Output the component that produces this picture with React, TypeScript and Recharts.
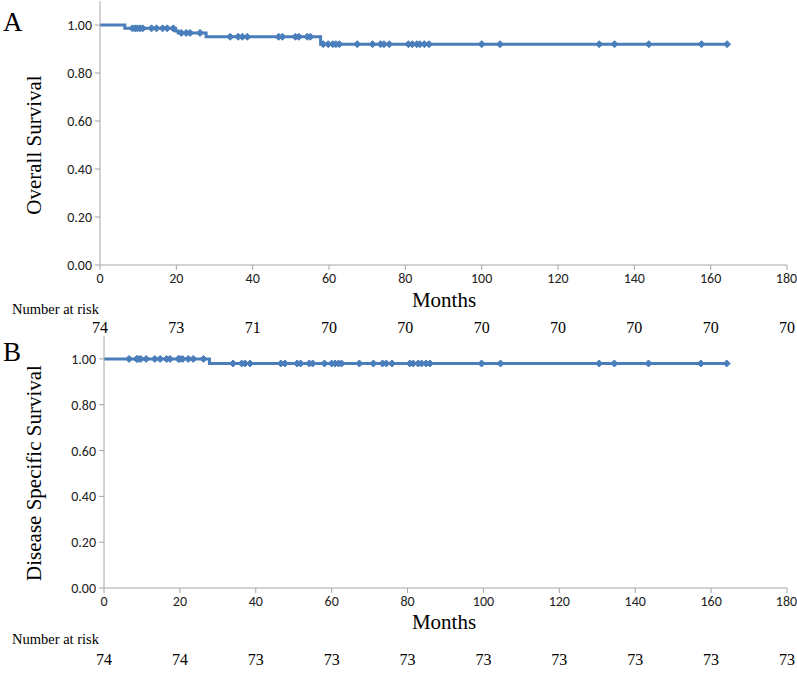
import React from 'react';
import { ComposedChart, Line, XAxis, YAxis } from 'recharts';

// ticks
const monthTicks = [0, 20, 40, 60, 80, 100, 120, 140, 160, 180];
const survivalTicks = [0, 0.2, 0.4, 0.6, 0.8, 1.0];

// A: overall survival
const osEventMonths = [6.5, 19.8, 20.5, 27.8, 57.8];
const osEventSurvival = [0.986, 0.975, 0.967, 0.951, 0.92];
const osCensorMonths = [
  8.5, 9.2, 9.8, 10.5, 11.2, 13.5, 14.8, 16.4, 17.6, 19.2, 21.3, 22.6, 23.6, 26.2,
  34.1, 36.2, 37.3, 38.6, 46.8, 47.8, 51.2, 52.1, 54.3, 55.1, 58.5, 59.8, 61.0, 61.8,
  62.7, 67.4, 71.4, 73.5, 74.4, 75.8, 80.8, 81.8, 83.0, 83.8, 85.0, 86.2, 100, 104.8,
  130.8, 134.8, 143.8, 157.6, 164.3,
];
const osAtRisk = [74, 73, 71, 70, 70, 70, 70, 70, 70, 70];

// B: disease specific survival
const dssEventMonths = [27.8];
const dssEventSurvival = [0.98];
const dssCensorMonths = [
  6.6, 8.6, 9.0, 9.7, 11.1, 13.4, 14.8, 16.5, 17.4, 19.6, 20.0, 20.7, 22.2, 23.5, 26.2,
  34.0, 36.3, 37.2, 38.5, 46.6, 47.7, 50.9, 51.8, 54.1, 55.0, 58.1, 60.0, 60.9, 61.8,
  62.6, 67.3, 71.0, 73.4, 74.4, 75.9, 80.6, 81.5, 82.8, 83.7, 84.9, 85.9, 99.5, 104.5,
  130.5, 134.5, 143.5, 157.3, 164.1,
];
const dssAtRisk = [74, 74, 73, 73, 73, 73, 73, 73, 73, 73];

const BLUE = '#4a7ebb';
const AXIS = '#a6a6a6';
const SERIF = '"Liberation Serif", "Times New Roman", serif';
const SANS = 'Carlito, "Liberation Sans Narrow", "Liberation Sans", sans-serif';

type Row = { t: number; s: number; c: boolean };

function buildRows(eventT: number[], eventS: number[], censorT: number[]): Row[] {
  const rows: Row[] = [{ t: 0, s: 1, c: false }];
  eventT.forEach((t, i) => rows.push({ t, s: eventS[i], c: false }));
  censorT.forEach((t) => {
    let s = 1;
    eventT.forEach((et, i) => {
      if (et <= t) s = eventS[i];
    });
    rows.push({ t, s, c: true });
  });
  return rows.sort((a, b) => a.t - b.t);
}

const Diamond = (props: any) => {
  const { cx, cy, payload, index } = props;
  if (!payload || !payload.c) return <g key={`n${index}`} />;
  const r = 3.5;
  return (
    <path
      key={`d${index}`}
      d={`M${cx},${cy - r}L${cx + r},${cy}L${cx},${cy + r}L${cx - r},${cy}Z`}
      fill={BLUE}
      stroke={BLUE}
      strokeWidth={1}
    />
  );
};

interface PanelProps {
  top: number;
  plotLeft: number;
  plotTop: number;
  plotBottom: number;
  rows: Row[];
  letter: string;
  letterY: number;
  yTitle: string;
  yTitleY: number;
  monthsY: number;
  riskLabelY: number;
  riskY: number;
  atRisk: number[];
}

function Panel(p: PanelProps) {
  const xAxisH = 28;
  const height = p.plotBottom - p.top + xAxisH;
  const plotRight = 787;
  const step = (plotRight - p.plotLeft) / (monthTicks.length - 1);
  return (
    <>
      <div style={{ position: 'absolute', left: 0, top: p.top }}>
        <ComposedChart
          width={797}
          height={height}
          data={p.rows}
          margin={{ top: p.plotTop - p.top, right: 797 - plotRight, left: p.plotLeft - 60, bottom: 0 }}
        >
          <XAxis
            dataKey="t"
            type="number"
            domain={[0, 180]}
            ticks={monthTicks}
            height={xAxisH}
            stroke={AXIS}
            tickSize={5}
            tickMargin={3}
            tick={{ fill: '#222', fontSize: 14, fontFamily: SANS }}
          />
          <YAxis
            type="number"
            domain={[0, 1.1]}
            ticks={survivalTicks}
            width={60}
            stroke={AXIS}
            tickSize={5}
            tickMargin={3}
            tickFormatter={(v: number) => v.toFixed(2)}
            tick={{ fill: '#222', fontSize: 14, fontFamily: SANS }}
          />
          <Line
            dataKey="s"
            type="stepAfter"
            stroke={BLUE}
            strokeWidth={3}
            dot={Diamond}
            activeDot={false}
            isAnimationActive={false}
          />
        </ComposedChart>
      </div>
      <div style={{ position: 'absolute', left: 3, top: p.letterY - 15, fontFamily: SERIF, fontSize: 27, lineHeight: '30px' }}>
        {p.letter}
      </div>
      <div
        style={{
          position: 'absolute',
          left: 34 - 150,
          top: p.yTitleY - 12,
          width: 300,
          textAlign: 'center',
          fontFamily: SERIF,
          fontSize: 21,
          lineHeight: '24px',
          transform: 'rotate(-90deg)',
          whiteSpace: 'nowrap',
        }}
      >
        {p.yTitle}
      </div>
      <div style={{ position: 'absolute', left: 444 - 60, top: p.monthsY - 12, width: 120, textAlign: 'center', fontFamily: SERIF, fontSize: 21, lineHeight: '24px' }}>
        Months
      </div>
      <div style={{ position: 'absolute', left: 12, top: p.riskLabelY - 10, fontFamily: SERIF, fontSize: 14.5, lineHeight: '20px', whiteSpace: 'nowrap' }}>
        Number at risk
      </div>
      {p.atRisk.map((n, i) => (
        <div
          key={i}
          style={{
            position: 'absolute',
            left: p.plotLeft + i * step - 20,
            top: p.riskY - 10,
            width: 40,
            textAlign: 'center',
            fontFamily: SERIF,
            fontSize: 16,
            lineHeight: '20px',
          }}
        >
          {n}
        </div>
      ))}
    </>
  );
}

export default function App() {
  const osRows = buildRows(osEventMonths, osEventSurvival, osCensorMonths);
  const dssRows = buildRows(dssEventMonths, dssEventSurvival, dssCensorMonths);
  return (
    <div style={{ position: 'relative', width: 797, height: 679, background: '#fff', overflow: 'hidden' }}>
      <style>{`body{margin:0}`}</style>
      <Panel
        top={0}
        plotLeft={100}
        plotTop={1}
        plotBottom={265}
        rows={osRows}
        letter="A"
        letterY={22}
        yTitle="Overall Survival"
        yTitleY={145}
        monthsY={300}
        riskLabelY={309}
        riskY={328}
        atRisk={osAtRisk}
      />
      <Panel
        top={332}
        plotLeft={104}
        plotTop={336}
        plotBottom={588}
        rows={dssRows}
        letter="B"
        letterY={352}
        yTitle="Disease Specific Survival"
        yTitleY={473}
        monthsY={622}
        riskLabelY={639}
        riskY={660}
        atRisk={dssAtRisk}
      />
    </div>
  );
}
